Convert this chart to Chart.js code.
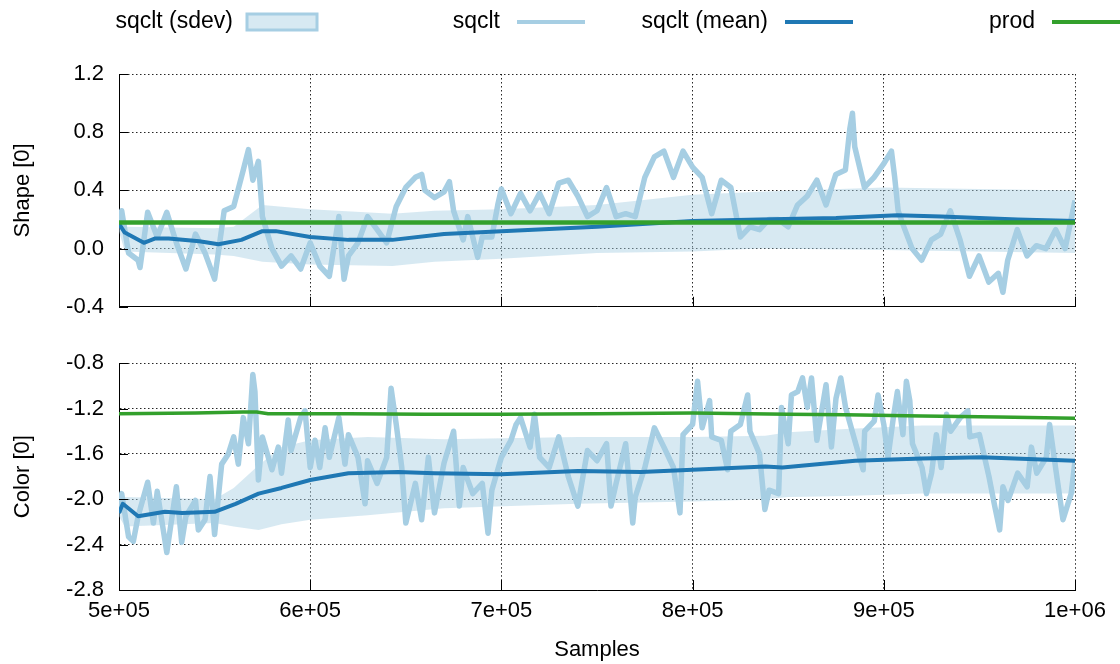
<!DOCTYPE html>
<html>
<head>
<meta charset="utf-8">
<title>sqclt vs prod</title>
<script src="https://cdn.jsdelivr.net/npm/chart.js@4.4.1"></script>
<style>
    html, body { margin: 0; padding: 0; background: #fff; }
    #wrap { position: relative; width: 1120px; height: 664px; }
    canvas { position: absolute; left: 0; }
    #shape { top: 0; }
    #color { top: 335px; }
</style>
</head>
<body>
<div id="wrap">
    <canvas id="shape" width="1120" height="335"></canvas>
    <canvas id="color" width="1120" height="329"></canvas>
</div>
<script>
// sample positions are in thousands of samples
const xTicks = [500000, 600000, 700000, 800000, 900000, 1000000];

// ---- Shape [0] ----
const shapeX = [500,501.4,505,510,511,515,520,525,530,535,540,545,550,555,560,565,567.7,570,572.9,574.6,
    575,580,585,590,595,600,605,610,615,617.7,620,625,630,635,640,645,650,655,658.3,660,
    665,670,672.8,675,680,682.4,685,687.6,690,695,698.1,700,705,710,715,720,725,730,735,740,
    745,750,755,760,765,770,775,780,785,790,795,800,805,810,815,820,825,830,835,839.9,
    844.9,850,854.9,859.9,865,869.8,874.9,879.9,882.2,883.6,884.8,889.9,894.9,899.8,904,905.7,907.5,909.9,914.8,919.8,
    924.9,929.8,934.8,939.9,944.8,949.8,954.9,959.9,962.3,964.8,969.8,974.9,979.8,984.8,989.9,994.8,1000];
const shapeSqclt = [0.17,0.26,-0.03,-0.08,-0.13,0.25,0.08,0.25,0.04,-0.14,0.10,-0.03,-0.21,0.26,0.29,0.54,0.68,0.47,0.60,0.30,
    0.22,0.00,-0.12,-0.05,-0.14,0.04,-0.12,-0.19,0.22,-0.21,-0.05,0.04,0.22,0.13,0.04,0.29,0.42,0.49,0.51,0.40,
    0.35,0.39,0.46,0.26,0.06,0.22,0.08,-0.06,0.08,0.08,0.30,0.41,0.24,0.38,0.26,0.38,0.24,0.45,0.47,0.36,
    0.22,0.26,0.42,0.22,0.24,0.22,0.49,0.63,0.67,0.49,0.67,0.56,0.49,0.24,0.47,0.42,0.08,0.15,0.13,0.20,
    0.20,0.15,0.30,0.36,0.47,0.30,0.51,0.54,0.82,0.93,0.70,0.42,0.49,0.58,0.67,0.49,0.26,0.17,0.00,-0.08,
    0.06,0.10,0.26,0.06,-0.19,-0.05,-0.23,-0.17,-0.30,-0.08,0.13,-0.05,0.02,0.00,0.13,0.00,0.33];
const shapeMeanX = [500,503,513,519,526,542,552,564,575,582,600,620,643,670,700,750,800,835,875,907,930,970,1000];
const shapeMean = [0.17,0.11,0.04,0.07,0.07,0.05,0.03,0.06,0.12,0.12,0.08,0.06,0.06,0.10,0.12,0.15,0.19,0.20,0.21,0.23,0.22,0.20,0.19];
const shapeBandX = [500,503,550,560,575,600,643,665,700,750,800,835,900,1000];
const shapeBandHi = [0.20,0.15,0.14,0.15,0.30,0.27,0.24,0.26,0.27,0.30,0.37,0.39,0.42,0.40];
const shapeBandLo = [0.12,-0.02,-0.04,-0.05,-0.09,-0.11,-0.12,-0.09,-0.07,-0.03,-0.02,0.00,-0.01,-0.03];
const shapeProdX = [500,1000];
const shapeProd = [0.18,0.18];

// ---- Color [0] ----
const colorX = [500,501.4,505,507.5,510,515,518,520,525,530,
    532.8,535,540,541.5,545,547.6,550,553.7,557.2,560,
    562.4,565,567.7,570,571.1,572.9,575,580,583.3,585,
    588.5,590,595,597.3,600,602.5,605,607.8,610,615,
    618.2,620,625,628.7,630,635,640,642.3,645,647.9,
    650,655,658.3,661.8,665,670,675,678,680,685,
    690,693,695,700,705,707.7,710,715,717.3,720,
    725,730,735,740,745,750,755,757.3,760,765,
    768.7,770,775,780,785,790,793.4,795,800,802.6,
    805,808.9,810,815,818.3,820,825,828.8,830,835,
    837.8,840,845,846.5,850,851.7,855,857.5,860,862.2,
    865,869.8,872.6,875,877.5,880,884.8,889.2,890,895,
    897,900,902.2,905,907.1,910,911.8,913.6,915,920,
    922.3,925,927.5,930,932.8,935,940,944,945,950,
    955,958,960.6,962.3,965,970,975,977.2,980,985,
    986.7,990,993.7,996.3,998,1000];
const colorSqclt = [-2.12,-1.95,-2.33,-2.37,-2.15,-1.85,-2.21,-1.93,-2.47,-1.89,
    -2.38,-2.15,-2.01,-2.27,-2.18,-1.80,-2.31,-1.69,-1.60,-1.45,
    -1.69,-1.28,-1.51,-0.90,-1.05,-1.83,-1.45,-1.74,-1.54,-1.77,
    -1.30,-1.57,-1.28,-1.22,-1.72,-1.48,-1.72,-1.37,-1.63,-1.28,
    -1.69,-1.43,-1.63,-2.04,-1.66,-1.86,-1.63,-1.02,-1.34,-1.72,
    -2.21,-1.86,-2.18,-1.63,-2.12,-1.68,-1.40,-2.06,-1.72,-1.95,
    -1.86,-2.30,-1.92,-1.63,-1.48,-1.34,-1.28,-1.54,-1.25,-1.63,
    -1.72,-1.45,-1.80,-2.06,-1.57,-1.66,-1.51,-2.06,-1.86,-1.51,
    -2.21,-1.98,-1.72,-1.37,-1.54,-1.72,-2.12,-1.43,-1.34,-0.96,
    -1.37,-1.13,-1.45,-1.48,-1.74,-1.40,-1.34,-1.08,-1.40,-1.60,
    -2.09,-1.92,-1.95,-1.19,-1.51,-1.08,-1.05,-0.93,-1.19,-0.93,
    -1.48,-0.99,-1.54,-1.11,-0.93,-1.19,-1.48,-1.74,-1.40,-1.31,
    -1.08,-1.34,-1.63,-1.28,-1.05,-1.43,-0.96,-1.13,-1.51,-1.72,
    -1.95,-1.77,-1.43,-1.72,-1.25,-1.40,-1.28,-1.22,-1.45,-1.43,
    -1.80,-2.06,-2.27,-1.89,-2.01,-1.77,-1.89,-1.54,-1.77,-1.63,
    -1.34,-1.74,-2.18,-2.04,-1.95,-1.66];
const colorMeanX = [500,502,510,524,533,550,561,573,585,600,620,646,665,700,740,773,800,838,847,885,920,951,1000];
const colorMean = [-2.12,-2.04,-2.15,-2.11,-2.12,-2.11,-2.04,-1.95,-1.90,-1.83,-1.77,-1.76,-1.77,-1.78,-1.75,-1.76,-1.74,-1.71,-1.72,-1.66,-1.64,-1.63,-1.66];
const colorBandX = [500,503,550,560,573,585,600,630,670,740,800,838,850,880,920,1000];
const colorBandHi = [-1.97,-1.98,-2.00,-1.90,-1.70,-1.54,-1.48,-1.45,-1.47,-1.45,-1.45,-1.44,-1.41,-1.38,-1.35,-1.35];
const colorBandLo = [-2.15,-2.24,-2.21,-2.24,-2.27,-2.22,-2.18,-2.14,-2.08,-2.04,-2.02,-2.00,-1.98,-1.97,-1.95,-1.95];
const colorProdX = [500,540,565,572,578,620,660,700,750,800,850,880,920,960,1000];
const colorProd = [-1.245,-1.24,-1.23,-1.23,-1.245,-1.245,-1.25,-1.25,-1.245,-1.24,-1.25,-1.255,-1.265,-1.275,-1.285];

const legendItems = ['sqclt (sdev)', 'sqclt', 'sqclt (mean)', 'prod'];

const C_LIGHT = '#a6cee3';
const C_BAND = 'rgba(166,206,227,0.45)';
const C_MEAN = '#1f78b4';
const C_PROD = '#33a02c';
const C_GRID = 'rgba(0,0,0,0.85)';
const FONT = "'Liberation Sans', Arial, sans-serif";

Chart.defaults.font.family = FONT;
Chart.defaults.font.size = 22;
Chart.defaults.color = '#000';

const pts = (xs, ys) => xs.map((x, i) => ({x: x * 1000, y: ys[i]}));

function fmtExp(v) {
    const [m, e] = v.toExponential(0).split('e');
    return m + 'e' + e[0] + e.slice(1).padStart(2, '0');
}

// gnuplot style ticks pointing into the plot
const innerTicks = {
    id: 'innerTicks',
    afterDraw(chart) {
        const {ctx, chartArea: a, scales: {x, y}} = chart;
        ctx.save();
        ctx.strokeStyle = '#000';
        ctx.lineWidth = 1;
        ctx.beginPath();
        x.ticks.forEach((t, i) => {
            const px = Math.round(x.getPixelForTick(i)) + 0.5;
            ctx.moveTo(px, a.bottom);
            ctx.lineTo(px, a.bottom - 10);
        });
        y.ticks.forEach((t, i) => {
            const py = Math.round(y.getPixelForTick(i)) + 0.5;
            ctx.moveTo(a.left, py);
            ctx.lineTo(a.left + 9, py);
        });
        ctx.stroke();
        ctx.restore();
    }
};

const keyPlugin = {
    id: 'keyPlugin',
    afterDraw(chart) {
        const ctx = chart.ctx;
        const textRight = [233, 500, 768, 1035];
        const sampleLeft = [247, 517, 785, 1052];
        const cy = 22;
        ctx.save();
        ctx.font = '23px ' + FONT;
        ctx.fillStyle = '#000';
        ctx.textAlign = 'right';
        ctx.textBaseline = 'middle';
        legendItems.forEach((label, i) => {
            ctx.fillText(label, textRight[i], cy);
        });
        // sdev sample box
        ctx.fillStyle = '#d7e9f2';
        ctx.fillRect(sampleLeft[0], cy - 8, 70, 16);
        ctx.strokeStyle = C_LIGHT;
        ctx.lineWidth = 3;
        ctx.strokeRect(sampleLeft[0], cy - 8, 70, 16);
        [C_LIGHT, C_MEAN, C_PROD].forEach((c, j) => {
            ctx.strokeStyle = c;
            ctx.lineWidth = 4;
            ctx.beginPath();
            ctx.moveTo(sampleLeft[j + 1], cy);
            ctx.lineTo(sampleLeft[j + 1] + 68, cy);
            ctx.stroke();
        });
        ctx.restore();
    }
};

function buildChart(id, o) {
    const datasets = [
        {data: pts(o.prodX, o.prod), borderColor: C_PROD, borderWidth: o.prodWidth, order: 0},
        {data: pts(o.meanX, o.mean), borderColor: C_MEAN, borderWidth: 4, order: 1},
        {data: pts(o.sqX, o.sq), borderColor: C_LIGHT, borderWidth: 5.5, order: 2},
        {data: pts(o.bandX, o.bandHi), borderColor: 'rgba(0,0,0,0)', borderWidth: 0,
            backgroundColor: C_BAND, fill: '+1', order: 3},
        {data: pts(o.bandX, o.bandLo), borderColor: 'rgba(0,0,0,0)', borderWidth: 0, order: 4}
    ];
    datasets.forEach(d => { d.pointRadius = 0; d.tension = 0; d.borderJoinStyle = 'round'; });

    return new Chart(document.getElementById(id), {
        type: 'line',
        data: {datasets},
        options: {
            responsive: false,
            animation: false,
            events: [],
            layout: {padding: {left: 0, right: 45, top: o.padTop, bottom: o.padBottom}},
            plugins: {legend: {display: false}, tooltip: {enabled: false}},
            scales: {
                x: {
                    type: 'linear',
                    min: 500000,
                    max: 1000000,
                    afterBuildTicks: s => { s.ticks = xTicks.map(v => ({value: v})); },
                    grid: {color: C_GRID, lineWidth: 1, drawTicks: false},
                    border: {display: true, color: '#000', width: 1, dash: [1.5, 2.5]},
                    ticks: {display: o.showX, padding: 8, maxRotation: 0, callback: v => fmtExp(v)},
                    title: {display: o.showX, text: 'Samples', padding: {top: 0, bottom: 1}},
                    afterFit: s => { s.height = o.xHeight; }
                },
                y: {
                    min: o.yMin,
                    max: o.yMax,
                    ticks: {stepSize: 0.4, padding: 15, callback: v => v.toFixed(1)},
                    grid: {color: C_GRID, lineWidth: 1, drawTicks: false},
                    border: {display: true, color: '#000', width: 1, dash: [1.5, 2.5]},
                    title: {display: true, text: o.yTitle, padding: {top: 10, bottom: 0}},
                    afterFit: s => { s.width = 119; }
                }
            }
        },
        plugins: o.key ? [innerTicks, keyPlugin] : [innerTicks]
    });
}

buildChart('shape', {
    sqX: shapeX, sq: shapeSqclt, meanX: shapeMeanX, mean: shapeMean,
    bandX: shapeBandX, bandHi: shapeBandHi, bandLo: shapeBandLo,
    prodX: shapeProdX, prod: shapeProd, prodWidth: 4.5,
    yMin: -0.4, yMax: 1.2, yTitle: 'Shape [0]',
    padTop: 74, padBottom: 27, xHeight: 0, showX: false, key: true
});

buildChart('color', {
    sqX: colorX, sq: colorSqclt, meanX: colorMeanX, mean: colorMean,
    bandX: colorBandX, bandHi: colorBandHi, bandLo: colorBandLo,
    prodX: colorProdX, prod: colorProd, prodWidth: 3.5,
    yMin: -2.8, yMax: -0.8, yTitle: 'Color [0]',
    padTop: 24, padBottom: 0, xHeight: 74, showX: true, key: false
});
</script>
</body>
</html>
